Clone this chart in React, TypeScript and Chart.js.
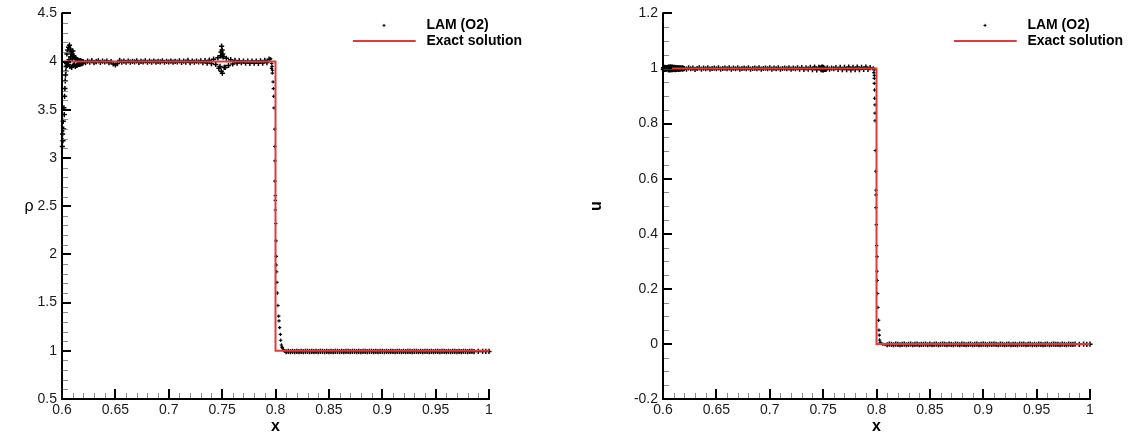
import React, { useEffect, useRef } from 'react';
import { Chart, registerables } from 'chart.js';

Chart.register(...registerables);

const FONT = '"Liberation Sans", Arial, Helvetica, sans-serif';
const RED = '#e23a3a';

// ---------- axis ticks ----------
const xTicks = [0.6, 0.65, 0.7, 0.75, 0.8, 0.85, 0.9, 0.95, 1];
const rhoTicks = [0.5, 1, 1.5, 2, 2.5, 3, 3.5, 4, 4.5];
const uTicks = [-0.2, 0, 0.2, 0.4, 0.6, 0.8, 1, 1.2];

// ---------- legend labels ----------
const seriesNames = ['LAM (O2)', 'Exact solution'];

// ---------- exact solution ----------
const exactX = [0.6, 0.8, 0.8, 1.0];
const exactRho = [4, 4, 1, 1];
const exactU = [1, 1, 0, 0];

// ---------- LAM (O2) samples, shared mesh regions ----------
// wall region next to x = 0.6
const wallX = [0.6003, 0.6006, 0.6009, 0.6012, 0.6015, 0.6018, 0.6021, 0.6024, 0.6027, 0.603, 0.6033, 0.6036, 0.6039, 0.6042];
const rhoWall = [3.12, 3.25, 3.18, 3.38, 3.3, 3.52, 3.45, 3.64, 3.72, 3.8, 3.86, 3.9, 3.95, 3.98];
const uWall = [0.996, 1.003, 0.998, 1.002, 0.997, 1.004, 0.999, 1.002, 0.997, 1.003, 0.998, 1.002, 0.999, 1.001];

// oscillation blob after the wall
const blobX = [0.6046, 0.605, 0.6054, 0.6058, 0.6062, 0.6066, 0.607, 0.6074, 0.6078, 0.6082, 0.6086, 0.609, 0.6094, 0.6098, 0.6102, 0.6106, 0.611,
  0.6115, 0.612, 0.6125, 0.613, 0.6135, 0.614, 0.6145, 0.615, 0.6155, 0.616, 0.6165, 0.617, 0.6175, 0.618, 0.6185, 0.619, 0.6195, 0.62];
const rhoBlob = [4.08, 3.96, 4.12, 3.97, 4.15, 4.02, 4.17, 3.95, 4.13, 4.05, 4.1, 3.94, 4.08, 4.03, 4.11, 3.96, 4.06,
  3.97, 4.04, 3.95, 4.03, 3.96, 4.02, 3.965, 4.015, 3.97, 4.01, 3.97, 4.01, 3.975, 4.005, 3.98, 4.0, 3.985, 4.0];
const uBlob = [1.004, 0.996, 1.005, 0.995, 1.004, 0.997, 1.006, 0.995, 1.004, 0.997, 1.005, 0.996, 1.004, 0.998, 1.003, 0.997, 1.004,
  0.996, 1.003, 0.997, 1.002, 0.998, 1.003, 0.997, 1.002, 0.998, 1.002, 0.998, 1.001, 0.999, 1.002, 0.998, 1.001, 0.999, 1.0];

// main plateau
const plateauX = [
  0.622, 0.624, 0.626, 0.628, 0.63, 0.632, 0.634, 0.636, 0.638, 0.64,
  0.642, 0.644, 0.646, 0.648, 0.65, 0.652, 0.654, 0.656, 0.658, 0.66,
  0.662, 0.664, 0.666, 0.668, 0.67, 0.672, 0.674, 0.676, 0.678, 0.68,
  0.682, 0.684, 0.686, 0.688, 0.69, 0.692, 0.694, 0.696, 0.698, 0.7,
  0.702, 0.704, 0.706, 0.708, 0.71, 0.712, 0.714, 0.716, 0.718, 0.72,
  0.722, 0.724, 0.726, 0.728, 0.73, 0.732, 0.734, 0.736, 0.738, 0.74,
  0.742, 0.744, 0.746, 0.748, 0.75, 0.752, 0.754, 0.756, 0.758, 0.76,
  0.762, 0.764, 0.766, 0.768, 0.77, 0.772, 0.774, 0.776, 0.778, 0.78,
  0.782, 0.784, 0.786, 0.788, 0.79, 0.792, 0.794];
const rhoPlateau = [
  3.99, 4.005, 3.995, 4.01, 3.99, 4.0, 4.008, 3.992, 4.004, 3.996,
  4.006, 3.99, 4.0, 3.975, 3.965, 3.98, 4.012, 3.995, 4.004, 3.993,
  4.006, 3.994, 4.003, 3.997, 4.008, 3.992, 4.002, 3.996, 4.007, 3.993,
  4.004, 3.995, 4.006, 3.994, 4.002, 3.997, 4.008, 3.993, 4.003, 3.996,
  4.005, 3.994, 4.003, 3.996, 4.007, 3.992, 4.004, 3.995, 4.012, 3.99,
  4.006, 3.994, 4.004, 3.996, 4.008, 3.99, 4.01, 3.985, 4.015, 3.98,
  4.025, 3.97, 4.04, 3.95, 4.06, 3.94, 4.035, 3.96, 4.02, 3.975,
  4.012, 3.985, 4.008, 3.988, 4.005, 3.985, 4.004, 3.982, 4.006, 3.984,
  4.005, 3.982, 4.008, 3.985, 4.012, 3.99, 4.025];
const uPlateau = [
  0.998, 1.002, 0.999, 1.001, 0.997, 1.0, 1.002, 0.998, 1.001, 0.999,
  1.002, 0.998, 1.0, 1.001, 0.999, 1.002, 0.998, 1.0, 1.001, 0.999,
  1.002, 0.998, 1.001, 0.999, 1.002, 0.998, 1.0, 1.001, 0.999, 1.002,
  0.998, 1.0, 1.001, 0.999, 1.002, 0.998, 1.0, 1.001, 0.999, 1.002,
  0.998, 1.001, 0.999, 1.002, 0.998, 1.0, 1.001, 0.999, 1.002, 0.998,
  1.001, 0.999, 1.002, 0.998, 1.003, 0.997, 1.002, 0.998, 1.004, 0.996,
  1.005, 0.995, 1.004, 0.996, 1.003, 0.997, 1.002, 0.998, 1.001, 0.999,
  1.003, 0.997, 1.004, 0.996, 1.004, 0.996, 1.005, 0.995, 1.004, 0.996,
  1.005, 0.996, 1.004, 0.997, 1.005, 0.997, 1.003];

// extra scatter of the bump near x = 0.75
const bumpX = [0.7485, 0.749, 0.7495, 0.75, 0.7505, 0.751, 0.7492, 0.7502, 0.747, 0.753];
const rhoBump = [4.06, 4.1, 4.16, 4.12, 4.08, 4.05, 3.9, 3.88, 3.93, 3.94];
const uBump = [1.004, 0.996, 1.005, 0.995, 1.003, 0.997, 1.004, 0.996, 1.002, 0.998];

// shock region (density)
const rhoShockX = [0.7955, 0.7962, 0.7965, 0.7968, 0.797, 0.7972, 0.7977, 0.798, 0.7983, 0.7986, 0.7993, 0.7993, 0.7995, 0.7995,
  0.7999, 0.7999, 0.7999, 0.8002, 0.8005, 0.8008, 0.8008, 0.8011, 0.8014, 0.8018, 0.8023, 0.803, 0.8033, 0.8039, 0.8046,
  0.8049, 0.8055, 0.806, 0.8065, 0.8075, 0.8087];
const rhoShock = [4.03, 3.93, 3.98, 3.95, 3.88, 3.91, 3.79, 3.72, 3.64, 3.52, 3.3, 3.12, 2.97, 2.76,
  2.61, 2.56, 2.46, 2.32, 2.14, 1.98, 1.89, 1.82, 1.71, 1.6, 1.47, 1.36, 1.31, 1.24, 1.17,
  1.11, 1.06, 1.04, 1.03, 1.01, 0.995];

// shock region (velocity)
const uShockX = [0.796, 0.797, 0.7975, 0.798, 0.7979, 0.7979, 0.7979, 0.7982, 0.7982, 0.7986, 0.7986, 0.7986, 0.7989, 0.7992,
  0.7995, 0.7995, 0.7995, 0.7998, 0.8001, 0.8005, 0.8005, 0.8008, 0.8011, 0.8014, 0.802, 0.8023, 0.8026, 0.8029,
  0.8035, 0.8042, 0.806, 0.808];
const uShock = [1.0, 1.002, 0.985, 0.975, 0.995, 0.964, 0.946, 0.922, 0.892, 0.868, 0.838, 0.81, 0.702, 0.627,
  0.558, 0.541, 0.495, 0.433, 0.357, 0.317, 0.264, 0.23, 0.183, 0.132, 0.086, 0.05, 0.032, 0.014,
  0.006, 0.002, -0.001, -0.002];

// post-shock region
const postX = [
  0.81, 0.812, 0.814, 0.816, 0.818, 0.82, 0.822, 0.824, 0.826, 0.828,
  0.83, 0.832, 0.834, 0.836, 0.838, 0.84, 0.842, 0.844, 0.846, 0.848,
  0.85, 0.852, 0.854, 0.856, 0.858, 0.86, 0.862, 0.864, 0.866, 0.868,
  0.87, 0.872, 0.874, 0.876, 0.878, 0.88, 0.882, 0.884, 0.886, 0.888,
  0.89, 0.892, 0.894, 0.896, 0.898, 0.9, 0.902, 0.904, 0.906, 0.908,
  0.91, 0.912, 0.914, 0.916, 0.918, 0.92, 0.922, 0.924, 0.926, 0.928,
  0.93, 0.932, 0.934, 0.936, 0.938, 0.94, 0.942, 0.944, 0.946, 0.948,
  0.95, 0.952, 0.954, 0.956, 0.958, 0.96, 0.962, 0.964, 0.966, 0.968,
  0.97, 0.972, 0.974, 0.976, 0.978, 0.98, 0.982, 0.984, 0.986,
  0.99, 0.994, 0.997, 1.0];
const rhoPost = [
  0.99, 0.993, 0.991, 0.994, 0.992, 0.993, 0.991, 0.994, 0.992, 0.993,
  0.994, 0.992, 0.993, 0.991, 0.994, 0.992, 0.993, 0.995, 0.992, 0.993,
  0.991, 0.994, 0.992, 0.993, 0.995, 0.992, 0.994, 0.991, 0.993, 0.994,
  0.992, 0.993, 0.995, 0.991, 0.994, 0.992, 0.993, 0.994, 0.992, 0.995,
  0.993, 0.991, 0.994, 0.992, 0.993, 0.995, 0.992, 0.994, 0.991, 0.993,
  0.994, 0.992, 0.993, 0.995, 0.991, 0.994, 0.992, 0.993, 0.994, 0.992,
  0.995, 0.993, 0.991, 0.994, 0.992, 0.993, 0.995, 0.992, 0.994, 0.991,
  0.993, 0.994, 0.992, 0.995, 0.993, 0.991, 0.994, 0.992, 0.993, 0.995,
  0.992, 0.994, 0.991, 0.993, 0.995, 0.992, 0.994, 0.993, 0.992,
  0.994, 0.993, 0.995, 0.994];
const uPost = [
  -0.003, -0.001, -0.002, -0.003, -0.001, -0.002, -0.003, -0.002, -0.001, -0.003,
  -0.002, -0.001, -0.003, -0.002, -0.001, -0.003, -0.002, -0.002, -0.001, -0.003,
  -0.001, -0.003, -0.002, -0.001, -0.003, -0.002, -0.001, -0.002, -0.003, -0.001,
  -0.002, -0.003, -0.001, -0.002, -0.003, -0.001, -0.002, -0.003, -0.002, -0.001,
  -0.003, -0.002, -0.001, -0.003, -0.002, -0.001, -0.002, -0.003, -0.001, -0.002,
  -0.001, -0.002, -0.003, -0.001, -0.002, -0.003, -0.002, -0.001, -0.003, -0.002,
  -0.002, -0.003, -0.001, -0.002, -0.001, -0.003, -0.002, -0.001, -0.003, -0.002,
  -0.003, -0.001, -0.002, -0.003, -0.002, -0.001, -0.003, -0.002, -0.001, -0.002,
  -0.002, -0.003, -0.001, -0.002, -0.003, -0.001, -0.002, -0.002, -0.001,
  -0.002, -0.001, -0.002, -0.001];

type Pt = { x: number; y: number };
function zip(xs: number[], ys: number[]): Pt[] {
  const n = Math.min(xs.length, ys.length);
  const out: Pt[] = [];
  for (let i = 0; i < n; i++) out.push({ x: xs[i], y: ys[i] });
  return out;
}

const rhoHead = [...zip(wallX, rhoWall), ...zip(blobX, rhoBlob), ...zip(plateauX, rhoPlateau), ...zip(bumpX, rhoBump)];
const rhoShockPts = zip(rhoShockX, rhoShock);
const rhoPoints = [...rhoHead, ...rhoShockPts, ...zip(postX, rhoPost)];

const uHead = [...zip(wallX, uWall), ...zip(blobX, uBlob), ...zip(plateauX, uPlateau), ...zip(bumpX, uBump)];
const uShockPts = zip(uShockX, uShock);
const uPoints = [...uHead, ...uShockPts, ...zip(postX, uPost)];

function fmt(v: number): string {
  const s = String(Number(Number(v).toFixed(4)));
  return s === '-0' ? '0' : s;
}

type PanelCfg = {
  left: number;
  width: number;
  yAxisWidth: number;
  padRight: number;
  yTicks: number[];
  yMinorDiv: number;
  yTitle: string;
  yTitleX: number;
  yTitleRotate: boolean;
  yTitleBold: boolean;
  points: Pt[];
  shockStart: number;
  shockEnd: number;
  exact: Pt[];
};

const HEIGHT = 438;

function Panel({ cfg }: { cfg: PanelCfg }) {
  const ref = useRef<HTMLCanvasElement | null>(null);
  useEffect(() => {
    if (!ref.current) return;
    const axesPlugin = {
      id: 'tecAxes',
      afterDatasetsDraw(chart: any) {
        const { ctx, chartArea } = chart;
        const { left, right, top, bottom } = chartArea;
        const xs = chart.scales.x;
        const ys = chart.scales.y;
        ctx.save();
        // minor ticks
        ctx.strokeStyle = '#8c8c8c';
        ctx.lineWidth = 1;
        ctx.beginPath();
        for (let i = 0; i < xTicks.length - 1; i++) {
          for (let k = 1; k < 5; k++) {
            const v = xTicks[i] + ((xTicks[i + 1] - xTicks[i]) * k) / 5;
            const px = Math.round(xs.getPixelForValue(v)) + 0.5;
            ctx.moveTo(px, bottom);
            ctx.lineTo(px, bottom - 6);
          }
        }
        const yt = cfg.yTicks;
        for (let i = 0; i < yt.length - 1; i++) {
          for (let k = 1; k < cfg.yMinorDiv; k++) {
            const v = yt[i] + ((yt[i + 1] - yt[i]) * k) / cfg.yMinorDiv;
            const py = Math.round(ys.getPixelForValue(v)) + 0.5;
            ctx.moveTo(left, py);
            ctx.lineTo(left + 6, py);
          }
        }
        ctx.stroke();
        // major ticks
        ctx.strokeStyle = '#000';
        ctx.lineWidth = 2;
        ctx.beginPath();
        for (const v of xTicks) {
          const px = Math.round(xs.getPixelForValue(v));
          ctx.moveTo(px, bottom);
          ctx.lineTo(px, bottom - 10);
        }
        for (const v of yt) {
          const py = Math.round(ys.getPixelForValue(v));
          ctx.moveTo(left, py);
          ctx.lineTo(left + 9, py);
        }
        ctx.stroke();
        // axis lines
        ctx.lineCap = 'square';
        ctx.beginPath();
        ctx.moveTo(left, top);
        ctx.lineTo(left, bottom);
        ctx.lineTo(right, bottom);
        ctx.stroke();
        ctx.lineCap = 'butt';

        // legend
        const ds = chart.data.datasets;
        ctx.fillStyle = '#000';
        ctx.font = `bold 14px ${FONT}`;
        ctx.textAlign = 'left';
        ctx.textBaseline = 'middle';
        ctx.fillText(ds[0].label, right - 62.6, top + 11.5);
        ctx.fillText(ds[1].label, right - 62.6, top + 27.5);
        ctx.lineWidth = 1;
        ctx.strokeStyle = '#000';
        ctx.beginPath();
        const mx = right - 105, my = top + 12;
        ctx.moveTo(mx - 1.5, my);
        ctx.lineTo(mx + 1.5, my);
        ctx.moveTo(mx, my - 1.5);
        ctx.lineTo(mx, my + 1.5);
        ctx.stroke();
        ctx.strokeStyle = RED;
        ctx.lineWidth = 2;
        ctx.beginPath();
        ctx.moveTo(right - 136, top + 27.5);
        ctx.lineTo(right - 73.3, top + 27.5);
        ctx.stroke();

        // axis titles
        ctx.fillStyle = '#000';
        ctx.textAlign = 'center';
        ctx.textBaseline = 'middle';
        ctx.font = `bold 16px ${FONT}`;
        ctx.fillText('x', (left + right) / 2, 427);
        const ty = (top + bottom) / 2;
        ctx.font = `${cfg.yTitleBold ? 'bold ' : ''}16px ${FONT}`;
        if (cfg.yTitleRotate) {
          ctx.translate(cfg.yTitleX, ty);
          ctx.rotate(-Math.PI / 2);
          ctx.fillText(cfg.yTitle, 0, 0);
        } else {
          ctx.fillText(cfg.yTitle, cfg.yTitleX, ty);
        }
        ctx.restore();
      },
    };

    const inShock = (i: number) => i >= cfg.shockStart && i < cfg.shockEnd;
    const tickFont = { family: FONT, size: 14 };
    const chart = new Chart(ref.current, {
      type: 'scatter',
      data: {
        datasets: [
          {
            label: seriesNames[0],
            data: cfg.points,
            pointStyle: 'cross',
            pointRadius: (c: any) => (inShock(c.dataIndex) ? 1.7 : 2.6),
            pointBorderWidth: (c: any) => (inShock(c.dataIndex) ? 1.1 : 1.5),
            borderColor: '#000',
            backgroundColor: '#000',
            showLine: false,
            clip: false,
            order: 1,
          } as any,
          {
            label: seriesNames[1],
            data: cfg.exact,
            showLine: true,
            borderColor: RED,
            backgroundColor: RED,
            borderWidth: 2,
            pointRadius: 0,
            fill: false,
            order: 0,
          } as any,
        ],
      },
      options: {
        animation: false,
        responsive: false,
        events: [],
        layout: { padding: { left: 0, right: cfg.padRight, top: 11, bottom: 0 } },
        plugins: { legend: { display: false }, tooltip: { enabled: false } },
        scales: {
          x: {
            type: 'linear',
            min: 0.6,
            max: 1,
            afterBuildTicks: (s: any) => {
              s.ticks = xTicks.map((value) => ({ value }));
            },
            afterFit: (s: any) => {
              s.height = HEIGHT - 399;
            },
            ticks: {
              callback: (v: any) => fmt(v),
              font: tickFont,
              color: '#1a1a1a',
              padding: 3,
              maxRotation: 0,
              autoSkip: false,
            },
            grid: { display: false, drawTicks: false },
            border: { display: false },
          },
          y: {
            type: 'linear',
            min: cfg.yTicks[0],
            max: cfg.yTicks[cfg.yTicks.length - 1],
            afterBuildTicks: (s: any) => {
              s.ticks = cfg.yTicks.map((value) => ({ value }));
            },
            afterFit: (s: any) => {
              s.width = cfg.yAxisWidth;
            },
            ticks: {
              callback: (v: any) => fmt(v),
              font: tickFont,
              color: '#1a1a1a',
              padding: 5,
              autoSkip: false,
            },
            grid: { display: false, drawTicks: false },
            border: { display: false },
          },
        },
      },
      plugins: [axesPlugin],
    } as any);
    return () => chart.destroy();
  }, [cfg]);
  return (
    <div style={{ position: 'absolute', left: cfg.left, top: 0, width: cfg.width, height: HEIGHT }}>
      <canvas ref={ref} width={cfg.width} height={HEIGHT} style={{ width: cfg.width, height: HEIGHT, display: 'block' }} />
    </div>
  );
}

const leftCfg: PanelCfg = {
  left: 0,
  width: 560,
  yAxisWidth: 62,
  padRight: 71,
  yTicks: rhoTicks,
  yMinorDiv: 5,
  yTitle: 'ρ',
  yTitleX: 29,
  yTitleRotate: false,
  yTitleBold: false,
  points: rhoPoints,
  shockStart: rhoHead.length,
  shockEnd: rhoHead.length + rhoShockPts.length,
  exact: zip(exactX, exactRho),
};

const rightCfg: PanelCfg = {
  left: 560,
  width: 569,
  yAxisWidth: 103,
  padRight: 39,
  yTicks: uTicks,
  yMinorDiv: 4,
  yTitle: 'u',
  yTitleX: 37,
  yTitleRotate: true,
  yTitleBold: true,
  points: uPoints,
  shockStart: uHead.length,
  shockEnd: uHead.length + uShockPts.length,
  exact: zip(exactX, exactU),
};

export default function App() {
  return (
    <div style={{ position: 'absolute', left: 0, top: 0, width: 1129, height: HEIGHT, background: '#fff', overflow: 'hidden' }}>
      <Panel cfg={leftCfg} />
      <Panel cfg={rightCfg} />
    </div>
  );
}
